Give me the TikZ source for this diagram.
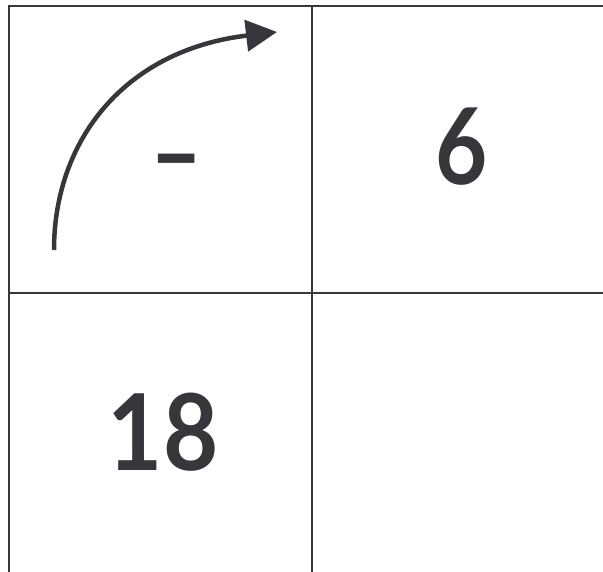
\documentclass[tikz,border=0pt]{standalone}
\usepackage{fontspec}
\setmainfont{Lato}
\usetikzlibrary{arrows.meta}
\definecolor{ink}{HTML}{36363B}
\begin{document}
\begin{tikzpicture}[x=1pt,y=-1pt,
  gridline/.style={draw=ink,line width=2pt},
  bignum/.style={text=ink,font=\fontsize{106}{106}\selectfont\bfseries,inner sep=0pt,anchor=center}]
\useasboundingbox (0,0) rectangle (603,572);
\fill[white] (0,0) rectangle (603,572);
% grid
\coordinate (tl) at (9,6);
\coordinate (tr) at (603,6);
\coordinate (bl) at (9,572);
\coordinate (mt) at (312,6);
\coordinate (mb) at (312,572);
\coordinate (ml) at (9,293);
\coordinate (mr) at (603,293);
\draw[gridline] (bl) -- (tl) -- (tr);
\draw[gridline] (mt) -- (mb);
\draw[gridline] (ml) -- (mr);
% arrow
\coordinate (a0) at (54,250);
\coordinate (a1) at (277,32);
\draw[draw=ink,line width=4.5pt,-{Triangle[length=31pt,width=31pt]}]
  (a0) .. controls (54,140) and (125,50) .. (a1);
% texts
\node[bignum,xscale=0.85] (minus) at (177,172) {–};
\node[bignum,xscale=0.85] (six) at (462,147) {6};
\node[bignum,xscale=0.9] (eighteen) at (163,432) {18};
\end{tikzpicture}
\end{document}
